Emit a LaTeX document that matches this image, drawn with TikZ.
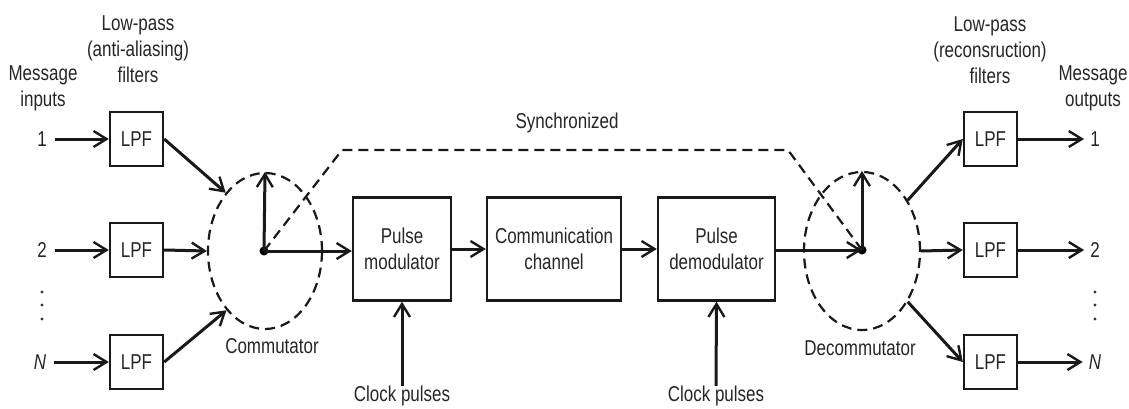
\documentclass[tikz,border=0pt]{standalone}
\usepackage{fontspec}
\setmainfont{Liberation Sans}[FakeStretch=0.79]
\usetikzlibrary{arrows.meta,shapes.geometric}

\tikzset{
  lbl/.style={font=\fontsize{21.5}{26}\selectfont, text=black!85, align=center, inner sep=0pt},
  blk/.style={lbl, draw=black!90, line width=2.4pt, minimum height=103pt},
  lpf/.style={lbl, draw=black!90, line width=2.4pt, minimum width=53pt, minimum height=54pt},
  arr/.style={draw=black!90, line width=3pt, -{Straight Barb[length=13pt,width=16pt,line width=2.4pt]}},
  sync/.style={draw=black!90, line width=2.2pt, dash pattern=on 10pt off 6pt},
  switch/.style={ellipse, draw=black!90, line width=2.2pt, dash pattern=on 10pt off 6pt, inner sep=0pt},
  hub/.style={circle, fill=black, inner sep=0pt, minimum size=9pt},
  dotmark/.style={circle, fill=black!80, inner sep=0pt, minimum size=3.4pt}
}

\begin{document}
\begin{tikzpicture}[x=1pt,y=-1pt]
\useasboundingbox (0,0) rectangle (1129,409);

% ---- headings ----
\node[lbl] (minlbl) at (43,88) {Message\\inputs};
\node[lbl] (aalbl) at (138,49) {Low-pass\\(anti-aliasing)\\filters};
\node[lbl] (rclbl) at (990,50) {Low-pass\\(reconsruction)\\filters};
\node[lbl] (moutlbl) at (1093,88) {Message\\outputs};
\node[lbl] (synclbl) at (567,123) {Synchronized};

% ---- inputs ----
\node[lbl] (in1) at (42,139) {1};
\node[lbl] (in2) at (42,250) {2};
\node[lbl] (inN) at (40,362) {\itshape N};
\node[dotmark] (ind1) at (42,292) {};
\node[dotmark] (ind2) at (42,305) {};
\node[dotmark] (ind3) at (42,319) {};

% ---- anti-aliasing filters ----
\node[lpf] (la1) at (136.5,139) {LPF};
\node[lpf] (la2) at (136.5,250) {LPF};
\node[lpf] (laN) at (136.5,362) {LPF};

% ---- commutator ----
\node[switch, minimum width=114pt, minimum height=156pt] (com) at (265,251) {};
\node[hub] (comhub) at (264,251) {};
\node[lbl] (comlbl) at (272,346) {Commutator};

% ---- main chain ----
\node[blk, minimum width=98pt] (pm) at (402,249) {Pulse\\modulator};
\node[blk, minimum width=134pt] (cc) at (554,249) {Communication\\channel};
\node[blk, minimum width=117pt] (pd) at (716.5,249) {Pulse\\demodulator};
\node[lbl] (ck1) at (402,396) {Clock pulses};
\node[lbl] (ck2) at (716,396) {Clock pulses};

% ---- decommutator ----
\node[switch, minimum width=116pt, minimum height=158pt] (dec) at (862,251) {};
\node[hub] (dechub) at (862,250) {};
\node[lbl] (declbl) at (860,348) {Decommutator};

% ---- reconstruction filters ----
\node[lpf] (lr1) at (990.5,139) {LPF};
\node[lpf] (lr2) at (990.5,250) {LPF};
\node[lpf] (lrN) at (990.5,362) {LPF};

% ---- outputs ----
\node[lbl] (out1) at (1095,139) {1};
\node[lbl] (out2) at (1095,250) {2};
\node[lbl] (outN) at (1095,362) {\itshape N};
\node[dotmark] (outd1) at (1095,292) {};
\node[dotmark] (outd2) at (1095,305) {};
\node[dotmark] (outd3) at (1095,319) {};

% ---- synchronisation path ----
\coordinate (s1) at (342,150);
\coordinate (s2) at (788,150);
\draw[sync] (comhub.center) -- (s1) -- (s2) -- (dechub.center);

% ---- connectors ----
\draw[arr] ([xshift=8pt]in1.east) -- (la1.west);
\draw[arr] ([xshift=8pt]in2.east) -- (la2.west);
\draw[arr] ([xshift=8pt]inN.east) -- (laN.west);

\draw[arr] (la1.east) -- (com.124);
\draw[arr] (la2.east) -- (com.west);
\draw[arr] (laN.east) -- (com.237);

\draw[arr] (comhub.center) -- (com.north);
\draw[arr] (comhub.center) -- (comhub.center -| pm.west);
\draw[arr] (pm.east) -- (cc.west);
\draw[arr] (cc.east) -- (pd.west);
\draw[arr] (ck1.north) -- (pm.south);
\draw[arr] (ck2.north) -- (pd.south);
\draw[arr] (dechub.center -| pd.east) -- (dechub.center);
\draw[arr] (dechub.center) -- (dec.north);

\draw[arr] (dec.48) -- (lr1.west);
\draw[arr] (dec.east) -- (lr2.west);
\draw[arr] (dec.-48) -- (lrN.west);

\draw[arr] (lr1.east) -- ([xshift=-6pt]out1.west);
\draw[arr] (lr2.east) -- ([xshift=-6pt]out2.west);
\draw[arr] (lrN.east) -- ([xshift=-6pt]outN.west);
\end{tikzpicture}
\end{document}
